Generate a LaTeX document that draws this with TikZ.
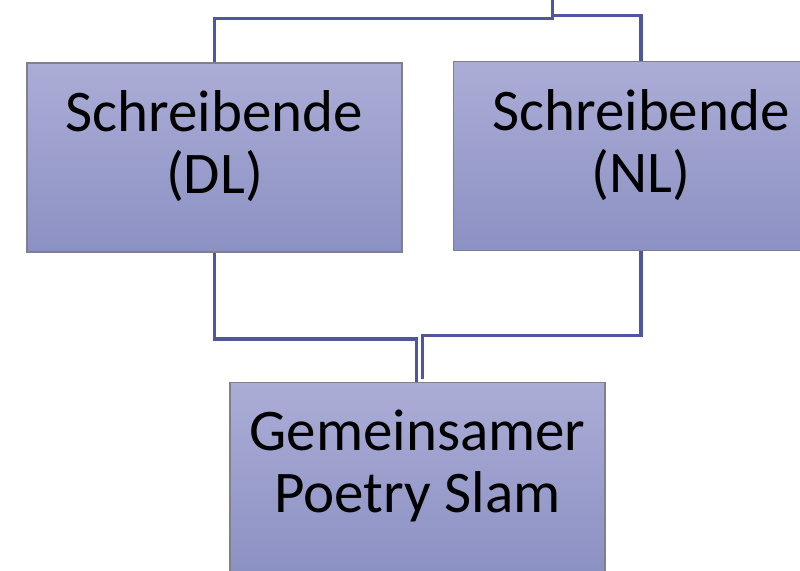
\documentclass[tikz,border=0pt]{standalone}
\usepackage{fontspec}
\setmainfont{Carlito}
\definecolor{boxtop}{HTML}{ABADD6}
\definecolor{boxbot}{HTML}{8C91C3}
\definecolor{boxline}{HTML}{80808C}
\definecolor{linkblue}{HTML}{4F559E}
\begin{document}
\begin{tikzpicture}[x=1pt,y=-1pt,
  box/.style={draw=boxline, line width=1.2pt, top color=boxtop, bottom color=boxbot,
    minimum width=375pt, minimum height=189pt, inner sep=0pt},
  boxtext/.style={align=center, inner sep=0pt, yshift=11pt,
    font=\fontsize{59}{62}\selectfont},
  link/.style={draw=linkblue, line width=3.2pt}]
\useasboundingbox (0,0) rectangle (800,570);
\clip (0,0) rectangle (800,570);
% the three boxes and their captions
\node[box] (dl) at (214.5,157.5) {};
\node[boxtext] (dltext) at (dl.center) {Schreibende\\(DL)};
\node[box] (nl) at (641,156) {};
\node[boxtext] (nltext) at (nl.center) {Schreibende\\(NL)};
\node[box] (slam) at (417.5,477) {};
\node[boxtext] (slamtext) at (slam.center) {Gemeinsamer\\Poetry Slam};
% junction points of the connectors
\coordinate (up) at (552.5,0);
\coordinate (jtop) at (552.5,18.7);
\coordinate (jtopr) at (552.5,15.7);
\coordinate (jl) at (416.8,339);
\coordinate (jr) at (422.2,335.5);
% upper bracket
\draw[link] (dl.north) |- (jtop) -- (up);
\draw[link] (nl.north) |- (jtopr);
% lower bracket into the joint box
\draw[link] (dl.south) |- (jl) -- (jl |- slam.north);
\draw[link] (nl.south) |- (jr) -- ([yshift=3pt]jr |- slam.north);
\end{tikzpicture}
\end{document}
